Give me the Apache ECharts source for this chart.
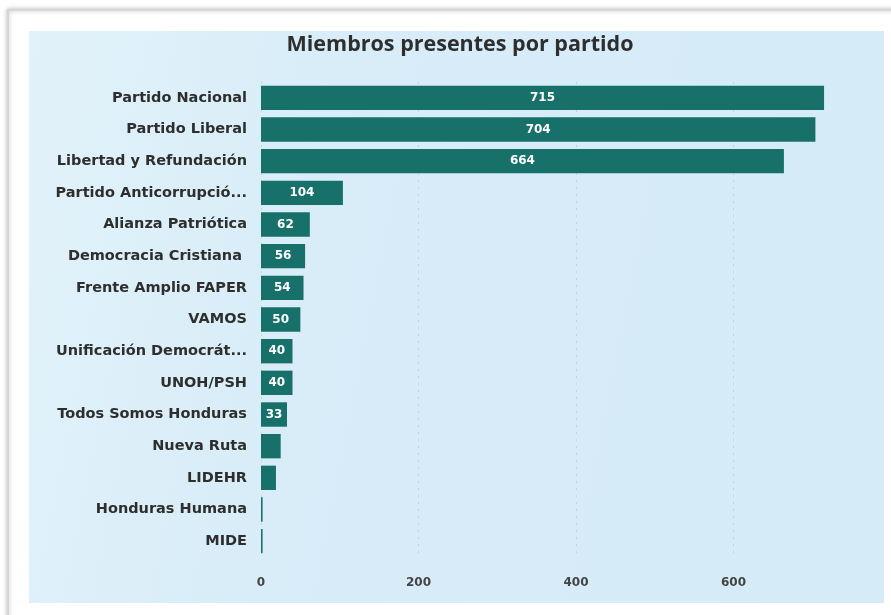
<!DOCTYPE html>
<html>
<head>
<meta charset="utf-8">
<script src="https://cdn.jsdelivr.net/npm/echarts@6/dist/echarts.min.js"></script>
<style>
  html, body { margin: 0; padding: 0; background: #fff; }
  #chart { width: 891px; height: 615px; }
</style>
</head>
<body>
<div id="chart"></div>
<script>
// 分类与数值
const partidos = [
  'Partido Nacional', 'Partido Liberal', 'Libertad y Refundación',
  'Partido Anticorrupció...', 'Alianza Patriótica', 'Democracia Cristiana ',
  'Frente Amplio FAPER', 'VAMOS', 'Unificación Democrát...', 'UNOH/PSH',
  'Todos Somos Honduras', 'Nueva Ruta', 'LIDEHR', 'Honduras Humana', 'MIDE'
]
const miembros = [715, 704, 664, 104, 62, 56, 54, 50, 40, 40, 33, 25, 19, 2, 2]
const ticks = [0, 200, 400, 600]

const chart = echarts.init(document.getElementById('chart'))
const FONT = 'Open Sans'
const LABEL_FONT = 'DejaVu Sans'

const option = {
  backgroundColor: '#ffffff',
  animation: false,
  graphic: [
    // 卡片阴影边
    { type: 'rect', shape: { x: 8, y: 10, width: 900, height: 620 },
      style: { fill: '#fff', stroke: '#d6d6d6', lineWidth: 2,
        shadowBlur: 4, shadowColor: 'rgba(0,0,0,0.25)' }, z: -20 },
    // 浅蓝面板
    { type: 'rect', shape: { x: 29, y: 31, width: 855, height: 572 },
      style: { fill: new echarts.graphic.LinearGradient(0, 0, 1, 0.3, [
        { offset: 0, color: '#e2f2fa' }, { offset: 0.35, color: '#d8edf8' },
        { offset: 1, color: '#d5ebf8' }]) }, z: -10 }
  ],
  title: {
    text: 'Miembros presentes por partido',
    left: 455, top: 29, textAlign: 'center',
    textStyle: { fontFamily: FONT, fontWeight: 'bold', fontSize: 21.5, color: '#2e2e2e' }
  },
  grid: { left: 261, top: 82, width: 632, height: 475, containLabel: false },
  xAxis: {
    type: 'value', min: 0, max: 800, interval: 200,
    axisLine: { show: false }, axisTick: { show: false },
    axisLabel: {
      showMaxLabel: false, margin: 20, color: '#444',
      fontFamily: LABEL_FONT, fontWeight: 'bold', fontSize: 12,
      formatter: v => ticks.includes(v) ? String(v) : ''
    },
    splitLine: { show: true, lineStyle: { color: '#c4d4de', type: [2, 5], width: 1 } }
  },
  yAxis: {
    type: 'category', inverse: true, data: partidos,
    axisLine: { show: false }, axisTick: { show: false },
    axisLabel: { margin: 14, color: '#2e2e2e', fontFamily: LABEL_FONT, fontWeight: 'bold', fontSize: 14.5 }
  },
  series: [{
    type: 'bar', data: miembros, barCategoryGap: '23%',
    itemStyle: { color: '#17706a' },
    label: {
      show: true, position: 'inside', color: '#fff',
      fontFamily: LABEL_FONT, fontWeight: 'bold', fontSize: 12,
      formatter: p => p.value >= 30 ? String(p.value) : ''
    }
  }]
}

chart.setOption(option)
window.addEventListener('resize', () => chart.resize())
</script>
</body>
</html>
